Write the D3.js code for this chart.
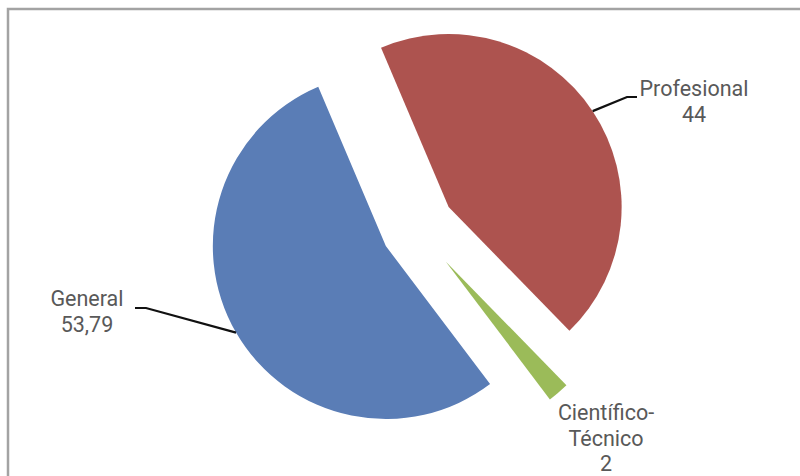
<!DOCTYPE html>
<html>
<head>
<meta charset="utf-8">
<script src="https://cdn.jsdelivr.net/npm/d3@7"></script>
<style>
  html, body { margin: 0; padding: 0; background: #fff; }
  svg { display: block; }
  text { font-family: Roboto, "Noto Sans", sans-serif; fill: #595959; }
</style>
</head>
<body>
<svg id="chart" width="800" height="476"></svg>
<script>
// Distribution by type of programme
const categories = ["Profesional", "Científico-Técnico", "General"];
const values = [44, 2, 53.79];
const valueLabels = ["44", "2", "53,79"];
const colors = ["#AD534F", "#9BBB59", "#5A7DB6"];

const W = 800, H = 476;
const svg = d3.select("#chart");

// chart frame (runs off the right and bottom edges)
svg.append("rect")
  .attr("x", 8).attr("y", 9)
  .attr("width", W).attr("height", H)
  .attr("fill", "#fff")
  .attr("stroke", "#a3a3a3")
  .attr("stroke-width", 2.5);

const cx = 417, cy = 228, radius = 173;
const explode = [38, 44, 36];          // per-slice pull-out distance
const deg = Math.PI / 180;

const pie = d3.pie().sort(null).value(d => d)
  .startAngle(-23 * deg).endAngle(337 * deg);
const arcs = pie(values);
const arc = d3.arc().innerRadius(0).outerRadius(radius);

const g = svg.append("g").attr("transform", `translate(${cx},${cy})`);

function offset(a, i) {
  const m = (a.startAngle + a.endAngle) / 2;
  return [Math.sin(m) * explode[i], -Math.cos(m) * explode[i]];
}

g.selectAll("path.slice")
  .data(arcs)
  .join("path")
  .attr("class", "slice")
  .attr("d", arc)
  .attr("fill", (d, i) => colors[i])
  .attr("transform", (d, i) => { const o = offset(d, i); return `translate(${o[0]},${o[1]})`; });

// label layout: text anchor and leader line (elbow + end), leader starts at slice mid-arc
const labelLayout = [
  { x: 694, y: 96, lines: ["Profesional"], leader: { elbow: [627, 97], end: [637, 97] } },
  { x: 606, y: 420, lines: ["Científico-", "Técnico"], leader: null },
  { x: 87, y: 306, lines: ["General"], leader: { elbow: [146, 308], end: [135, 308] } }
];

arcs.forEach((a, i) => {
  const L = labelLayout[i];
  const t = svg.append("text")
    .attr("x", L.x).attr("y", L.y)
    .attr("text-anchor", "middle")
    .attr("font-size", 21.5);
  const rows = L.lines.concat([valueLabels[i]]);
  rows.forEach((r, k) => {
    t.append("tspan").attr("x", L.x).attr("dy", k === 0 ? 0 : 25.5).text(r);
  });

  if (L.leader) {
    const o = offset(a, i);
    const ang = (a.startAngle + a.endAngle) / 2;
    const px = cx + o[0] + Math.sin(ang) * radius;
    const py = cy + o[1] - Math.cos(ang) * radius;
    svg.append("path")
      .attr("d", d3.line()([[px, py], L.leader.elbow, L.leader.end]))
      .attr("fill", "none")
      .attr("stroke", "#111")
      .attr("stroke-width", 2.2);
  }
});
</script>
</body>
</html>
